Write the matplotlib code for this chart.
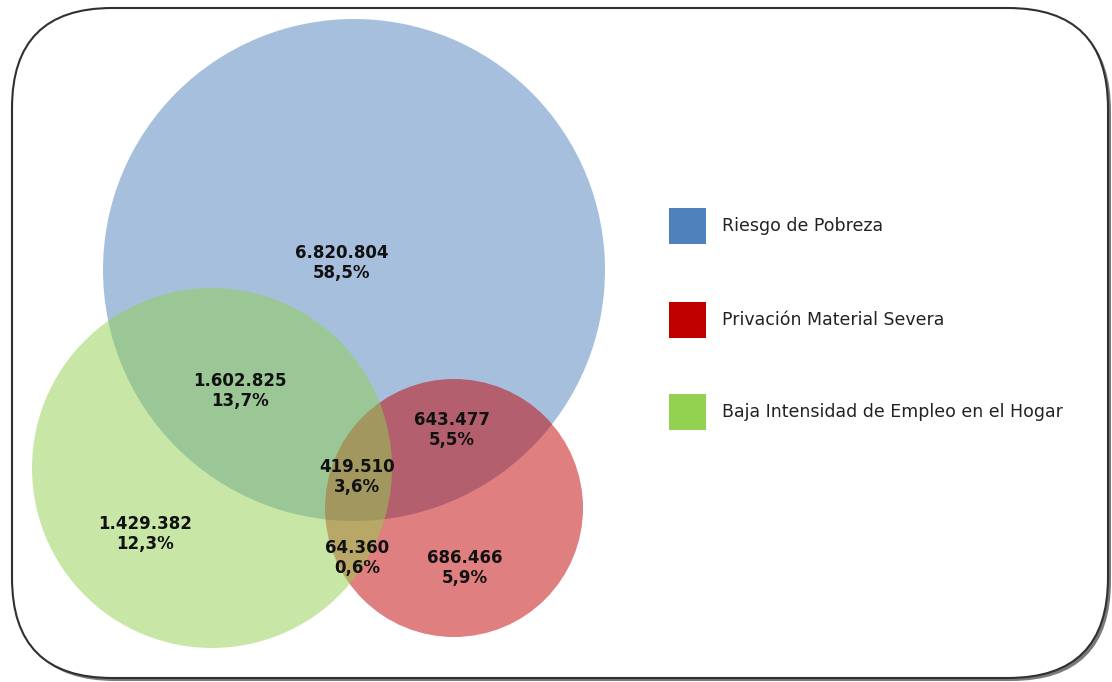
import matplotlib.pyplot as plt
from matplotlib.patches import Circle, FancyBboxPatch, Rectangle

# sets (pixel geometry of the reference)
set_names = ["Riesgo de Pobreza", "Privación Material Severa",
             "Baja Intensidad de Empleo en el Hogar"]
set_colors = ["#4F81BD", "#C00000", "#92D050"]
centers = [(354, 270), (454, 508), (212, 468)]
radii = [251, 129, 180]

# region labels
values = ["6.820.804", "1.602.825", "643.477", "419.510",
          "1.429.382", "64.360", "686.466"]
shares = ["58,5%", "13,7%", "5,5%", "3,6%", "12,3%", "0,6%", "5,9%"]
label_pos = [(342, 263), (240, 391), (452, 430), (357, 477),
             (145, 534), (357, 558), (465, 568)]

W, H = 1112, 682
fig = plt.figure(figsize=(W / 100, H / 100), dpi=100)
ax = fig.add_axes([0, 0, 1, 1])
ax.set_xlim(0, W)
ax.set_ylim(H, 0)
ax.set_aspect("equal")
ax.axis("off")

# frame with shadow
pad = 100
shadow = FancyBboxPatch((12 + pad + 3, 8 + pad + 3), 1096 - 2 * pad, 670 - 2 * pad,
                        boxstyle="round,pad=%d" % pad, fc="#7a7a7a", ec="none", zorder=0)
ax.add_patch(shadow)
frame = FancyBboxPatch((12 + pad, 8 + pad), 1096 - 2 * pad, 670 - 2 * pad,
                       boxstyle="round,pad=%d" % pad, fc="white", ec="#303030",
                       lw=1.5, zorder=1)
ax.add_patch(frame)

for (c, r, col, z) in zip(centers, radii, set_colors, [2, 3, 4]):
    ax.add_patch(Circle(c, r, fc=col, ec="none", alpha=0.5, zorder=z))

for v, s, (x, y) in zip(values, shares, label_pos):
    ax.text(x, y, v + "\n" + s, ha="center", va="center", fontsize=12,
            fontweight="bold", color="#111111", linespacing=1.2, zorder=10)

# legend
leg_y = [226, 320, 412]
for name, col, y in zip(set_names, set_colors, leg_y):
    ax.add_patch(Rectangle((669, y - 18), 37, 36, fc=col, ec="none", zorder=5))
    ax.text(722, y, name, ha="left", va="center", fontsize=12.5,
            color="#222222", zorder=10)

fig.savefig("out.png", dpi=100)
